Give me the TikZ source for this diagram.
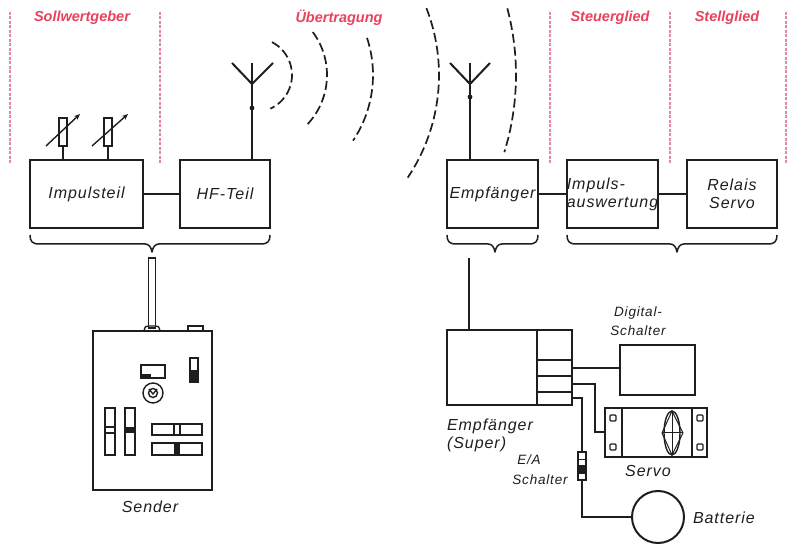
\documentclass[tikz,border=0pt]{standalone}
\usepackage{fontspec}
\setmainfont{Liberation Sans}
\newfontfamily\spaced[LetterSpace=6]{Liberation Sans}
\usetikzlibrary{arrows.meta}
\definecolor{ink}{HTML}{1E1E1E}
\definecolor{rot}{HTML}{E8425F}
\definecolor{rotline}{HTML}{E6859C}
\newcommand\labfont{\spaced\fontsize{16}{18}\selectfont\itshape}
\newcommand\labsmall{\spaced\fontsize{13.5}{19}\selectfont\itshape}
\newcommand\titlefont{\fontsize{14.5}{18}\selectfont\bfseries\itshape}
% flat curly brace: left end, tip, right end
\newcommand\myBrace[3]{%
  \draw[braceline] (#1,235) .. controls (#1,241) and (#1+2,244) .. (#1+9,244)
    -- (#2-7,244) .. controls (#2-3,244) and (#2-1,247) .. (#2,252)
    .. controls (#2+1,247) and (#2+3,244) .. (#2+7,244)
    -- (#3-9,244) .. controls (#3-2,244) and (#3,241) .. (#3,235);}
\begin{document}
\begin{tikzpicture}[x=1pt,y=-1pt,color=ink,line width=2pt,
  block/.style 2 args={draw,rectangle,minimum width=#1pt,minimum height=#2pt,
    inner sep=0pt,font=\labfont,align=center},
  pot/.style={draw,rectangle,line width=1.6pt,minimum width=8pt,minimum height=28pt,inner sep=0pt},
  title/.style={text=rot,font=\titlefont,inner sep=0pt},
  divider/.style={draw=rotline,line width=1.5pt,dash pattern=on 3pt off 1.5pt},
  wave/.style={line width=1.7pt,dash pattern=on 9pt off 4pt},
  braceline/.style={line width=1.5pt,line join=round},
  detail/.style={line width=1.4pt},
  lbl/.style={font=\labfont,inner sep=0pt,align=left},
  lblsmall/.style={font=\labsmall,inner sep=0pt,align=center},
  tuner/.style={line width=1.4pt,-{Stealth[length=6pt,width=5pt]}}]

\fill[white] (0,0) rectangle (788,545);
\useasboundingbox (0,0) rectangle (788,545);

% column dividers and headings
\foreach \x in {10,160,550,670,786} \draw[divider] (\x,12) -- (\x,165);
\node[title] (t1) at (82,18) {Sollwertgeber};
\node[title] (t2) at (339,18) {Übertragung};
\node[title] (t3) at (610,18) {Steuerglied};
\node[title] (t4) at (727,18) {Stellglied};

% block chain
\node[block={113}{68}] (imp) at (86.5,194) {Impulsteil};
\node[block={90}{68}] (hf) at (225,194) {HF-Teil};
\node[block={91}{68}] (emp) at (492.5,194) {Empfänger};
\node[block={91}{68},align=left] (ausw) at (612.5,194) {Impuls-\\auswertung};
\node[block={90}{68}] (rel) at (732,194) {Relais\\Servo};
\draw (imp) -- (hf);
\draw (emp) -- (ausw);
\draw (ausw) -- (rel);

% setpoint potentiometers
\node[pot] (p1) at (63,132) {};
\node[pot] (p2) at (108,132) {};
\draw (p1.south) -- (p1.south |- imp.north);
\draw (p2.south) -- (p2.south |- imp.north);
\draw[tuner] (46,146) -- (80,114);
\draw[tuner] (92,146) -- (128,114);

% antennas
\coordinate (jL) at (252,84);
\draw (jL |- hf.north) -- (252,63);
\draw (232,63) -- (jL) -- (273,63);
\fill (252,108) circle (2.4);
\coordinate (jR) at (470,84);
\draw (jR |- emp.north) -- (470,63);
\draw (450,63) -- (jR) -- (490,63);
\fill (470,97) circle (2.4);

% radio waves
\coordinate (wc) at (255,75);
\draw[wave] (wc) ++(-62.7:37) arc[start angle=-62.7,end angle=65.6,radius=37];
\draw[wave] (wc) ++(-36.6:72) arc[start angle=-36.6,end angle=44.4,radius=72];
\draw[wave] (wc) ++(-18.3:118) arc[start angle=-18.3,end angle=33.8,radius=118];
\draw[wave] (wc) ++(-21.3:184) arc[start angle=-21.3,end angle=33.9,radius=184];
\draw[wave] (wc) ++(-14.8:261) arc[start angle=-14.8,end angle=17.2,radius=261];

% braces
\myBrace{30}{152}{270}
\myBrace{447}{495}{538}
\myBrace{567}{677}{777}

% transmitter
\node[draw,rectangle,line width=1.5pt,minimum width=7pt,minimum height=70pt,inner sep=0pt] (rod) at (152,293) {};
\node[draw,rectangle,minimum width=119pt,minimum height=159pt,inner sep=0pt] (tx) at (152.5,410.5) {};
\draw[detail] (144,331) .. controls (145,326) and (146,326) .. (149,326) -- (155,326)
  .. controls (158,326) and (159,326) .. (160,331);
\draw[detail] (188,331) -- (188,326) -- (203,326) -- (203,331);
\draw[detail] (141,365) rectangle (165,378);
\fill (142,374) rectangle (151,378);
\draw[detail] (153,393) circle (10);
\draw[detail] (149,389) -- (153,394) -- (157,389);
\draw[detail] (153,393) circle (4.5);
\draw[detail] (190,358) rectangle (198,382);
\fill (190,370) rectangle (198,382);
\draw[detail] (105,408) rectangle (115,455);
\draw[detail] (105,427) rectangle (115,433);
\draw[detail] (125,408) rectangle (135,455);
\fill (125,427) rectangle (135,433);
\draw[detail] (152,424) rectangle (202,435);
\draw[detail] (174,424) rectangle (180,435);
\draw[detail] (152,443) rectangle (202,455);
\fill (174,443) rectangle (180,455);
\node[lbl] (txlbl) at (150,507) {Sender};

% receiver with plug slots
\node[draw,rectangle,minimum width=125pt,minimum height=75pt,inner sep=0pt] (rx) at (509.5,367.5) {};
\coordinate (rxant) at (469,258);
\draw (rxant) -- (rxant |- rx.north);
\draw (537,330) -- (537,405);
\foreach \y in {360,376,392} \draw (537,\y) -- (572,\y);
\coordinate (s2) at (572,368);
\coordinate (s3) at (572,384);
\coordinate (s4) at (572,398);

% digital switch
\node[draw,rectangle,minimum width=75pt,minimum height=50pt,inner sep=0pt] (dig) at (657.5,370) {};
\draw (s2) -- (s2 -| dig.west);

% servo
\node[draw,rectangle,minimum width=102pt,minimum height=49pt,inner sep=0pt] (servo) at (656,432.5) {};
\draw (622,408) -- (622,457);
\draw (692,408) -- (692,457);
\foreach \x/\y in {613/418,613/447,700/418,700/447}
  \draw[line width=1.2pt,rounded corners=1pt] (\x-3,\y-3) rectangle (\x+3,\y+3);
\draw[detail] (672,433) ellipse (8 and 22);
\draw[line width=1pt] (672,411) -- (662,433) -- (672,455) -- (683,433) -- cycle;
\draw[line width=1pt] (662,433) -- (683,433);
\draw[line width=1pt] (672,411) -- (672,455);
\draw (s3) -- (595,384) |- (servo.west);

% on/off switch and battery
\node[draw,rectangle,line width=1.5pt,minimum width=8pt,minimum height=28pt,inner sep=0pt] (sw) at (582,466) {};
\draw[line width=1pt] (578,460) -- (586,460);
\fill (579,465) rectangle (585,474);
\node[draw,circle,minimum size=52pt,inner sep=0pt] (bat) at (658,517) {};
\draw (s4) -| (sw.north);
\draw (sw.south) |- (bat.west);

% labels
\node[lbl,anchor=west] (rxlbl) at (446,435) {Empfänger\\(Super)};
\node[lblsmall] (ea1) at (529,460) {E/A};
\node[lblsmall] (ea2) at (540,480) {Schalter};
\node[lblsmall] (diglbl) at (638,321) {Digital-\\Schalter};
\node[lbl] (servolbl) at (648,471) {Servo};
\node[lbl,anchor=west] (batlbl) at (692,518) {Batterie};
\end{tikzpicture}
\end{document}
